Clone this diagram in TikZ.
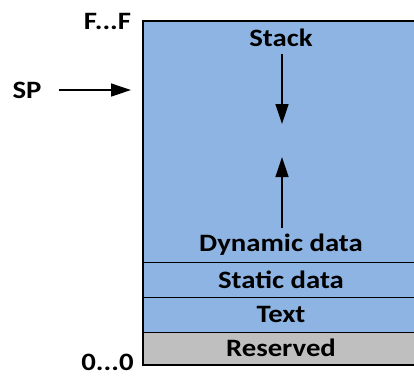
\documentclass[tikz,border=0pt]{standalone}
\usepackage{fontspec}
\setmainfont{Carlito}
\usetikzlibrary{arrows.meta}
\definecolor{segblue}{HTML}{8EB4E3}
\definecolor{seggray}{HTML}{BFBFBF}
\newcommand{\wide}[1]{\scalebox{1.15}[1]{#1}}
\tikzset{
  lbl/.style={font=\bfseries\fontsize{25}{27}\selectfont, inner sep=0pt},
  arr/.style={line width=1.3pt, -{Triangle[length=20pt,width=13pt]}},
}
\begin{document}
\begin{tikzpicture}[x=1pt,y=-1pt]
\useasboundingbox (0,0) rectangle (414,376);
\begin{scope}
\clip (0,0) rectangle (414,376);
\fill[segblue] (143,21) rectangle (430,332);
\fill[seggray] (143,332) rectangle (430,365);
\draw[line width=0.8pt] (143,262) -- (430,262);
\draw[line width=0.8pt] (143,297) -- (430,297);
\draw[line width=0.8pt] (143,332) -- (430,332);
\draw[line width=2pt] (430,21) -- (143,21) -- (143,365) -- (430,365);
\end{scope}
\node[lbl] (stack) at (281,38) {\wide{Stack}};
\node[lbl] (dyn) at (281,245) {\wide{Dynamic data}};
\node[lbl] (stat) at (281,280) {\wide{Static data}};
\node[lbl] (text) at (281,314) {\wide{Text}};
\node[lbl] (res) at (281,348) {\wide{Reserved}};
\node[lbl] (ff) at (107.5,21) {\wide{F...F}};
\node[lbl] (zz) at (107.5,362.5) {\wide{0...0}};
\node[lbl] (sp) at (27,90) {\wide{SP}};
\coordinate (spend) at (131,90);
\coordinate (downstart) at (282,54);
\coordinate (downend) at (282,124);
\coordinate (upstart) at (282,228);
\coordinate (upend) at (282,157);
\draw[arr] (sp.east) ++(17,0) -- (spend);
\draw[arr] (downstart) -- (downend);
\draw[arr] (upstart) -- (upend);
\end{tikzpicture}
\end{document}
